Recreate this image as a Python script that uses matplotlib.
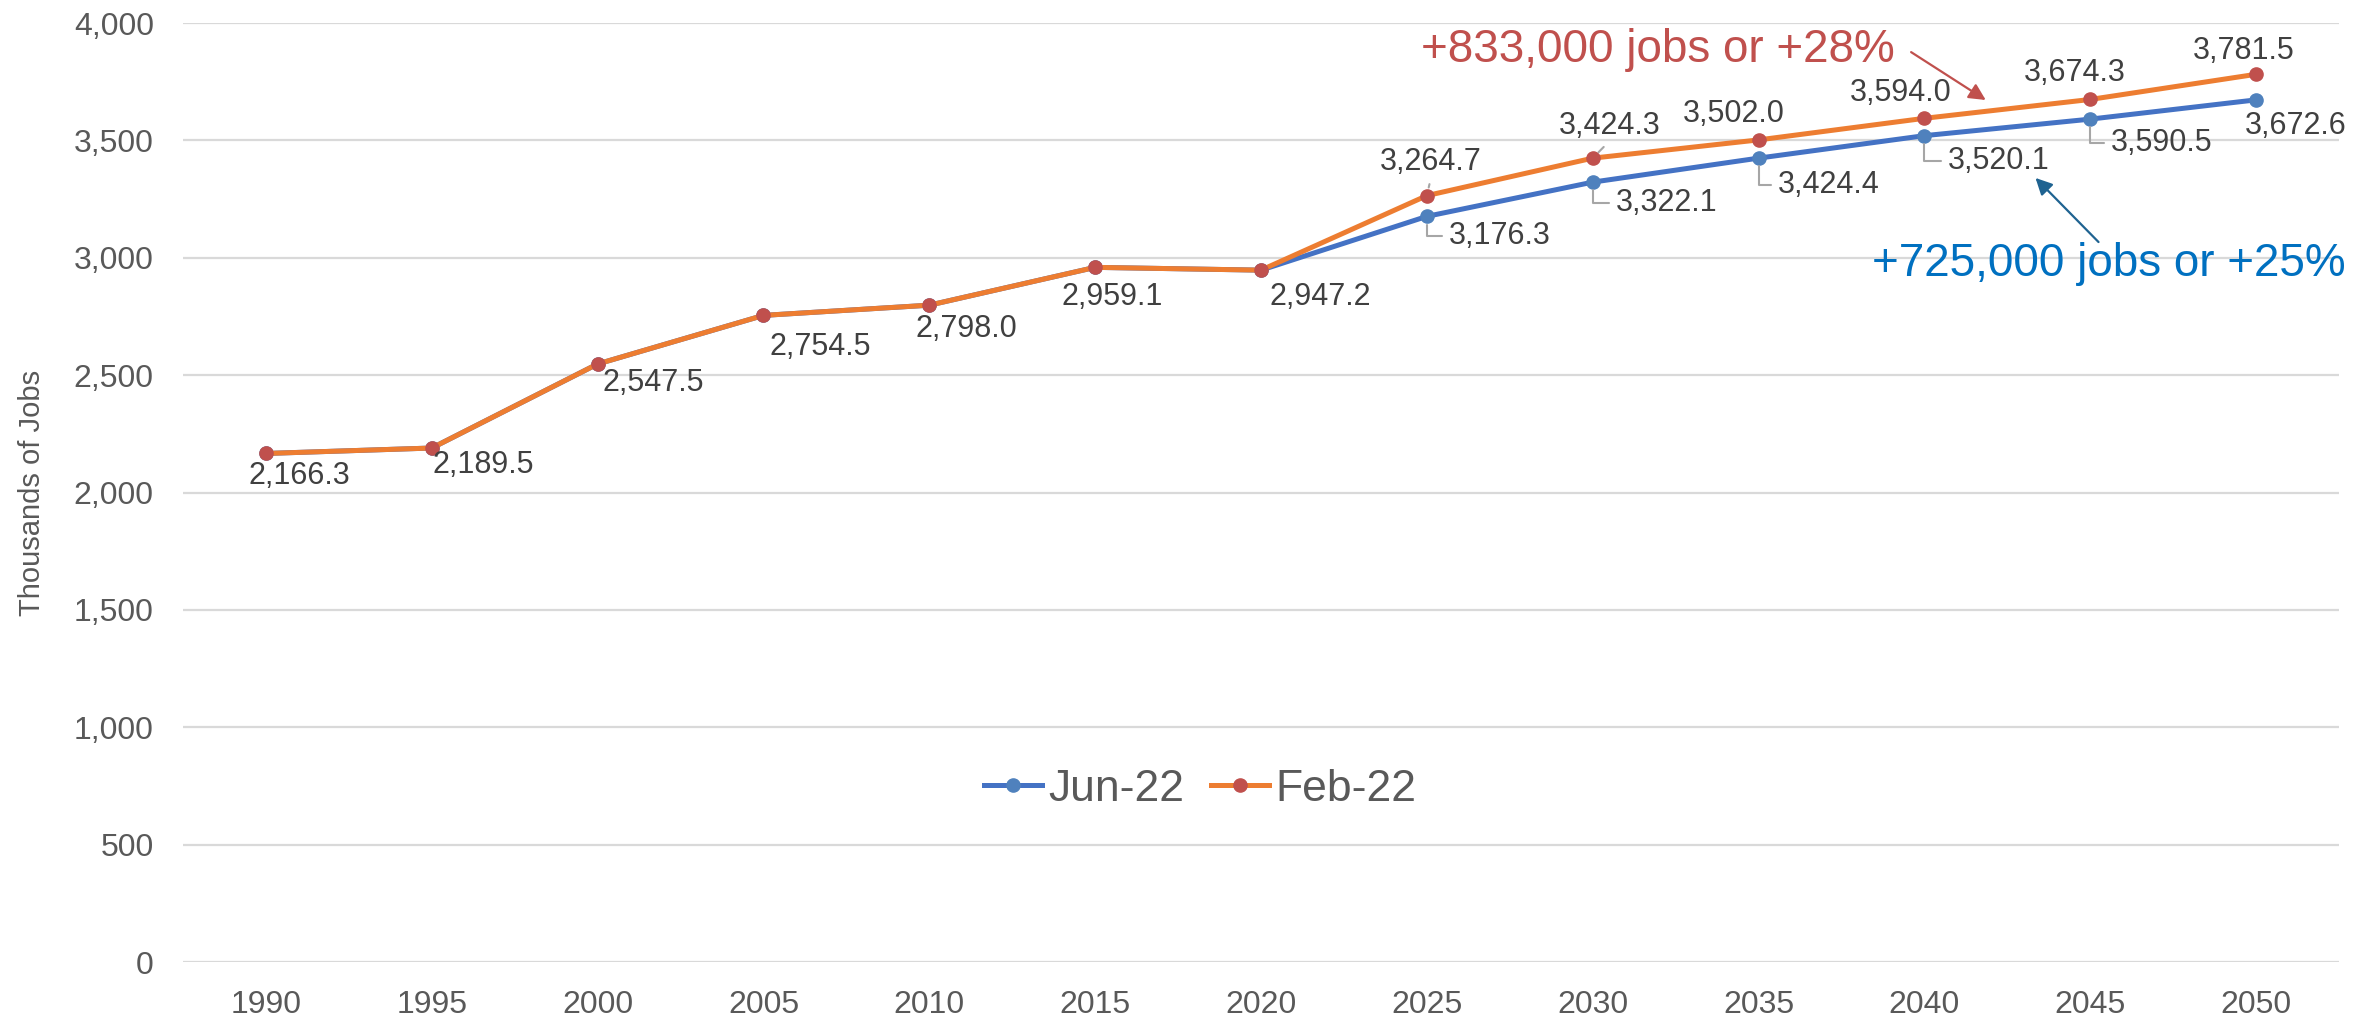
import numpy as np
import matplotlib.pyplot as plt

plt.rcParams['font.family'] = ['Liberation Sans', 'DejaVu Sans']

# data
years = ['1990', '1995', '2000', '2005', '2010', '2015', '2020',
         '2025', '2030', '2035', '2040', '2045', '2050']
jun22 = [2166.3, 2189.5, 2547.5, 2754.5, 2798.0, 2959.1, 2947.2,
         3176.3, 3322.1, 3424.4, 3520.1, 3590.5, 3672.6]
feb22 = [2166.3, 2189.5, 2547.5, 2754.5, 2798.0, 2959.1, 2947.2,
         3264.7, 3424.3, 3502.0, 3594.0, 3674.3, 3781.5]
yticks = [0, 500, 1000, 1500, 2000, 2500, 3000, 3500, 4000]

# label offsets (points)
hist_off = [(24, -16), (37, -12), (40, -14), (41, -23), (27, -17), (12, -21), (43, -19)]
feb_off = [(3, 24), (12, 23), (-18, 19), (-17, 18), (-11, 19), (-9, 17)]
jun_off = [(16, -14), (17, -15), (14, -19), (17, -18), (15, -17), (-8, -19)]

x = np.arange(len(years))
n_hist = len(hist_off)

fig = plt.figure(figsize=(23.71, 10.18), dpi=100)
ax = fig.add_axes([0.0772, 0.055, 0.9093, 0.9224])

ax.plot(x, jun22, color='#4472C4', lw=3.6, marker='o', ms=9.5,
        mfc='#4F81BD', mec='#4F81BD', label='Jun-22', zorder=3)
ax.plot(x, feb22, color='#ED7D31', lw=3.6, marker='o', ms=9.5,
        mfc='#C0504D', mec='#C0504D', label='Feb-22', zorder=4)

ax.set_ylim(0, 4000)
ax.set_xlim(-0.5, len(years) - 0.5)
ax.set_yticks(yticks)
ax.set_yticklabels([f'{v:,}' for v in yticks])
ax.set_xticks(x)
ax.set_xticklabels(years)
ax.tick_params(axis='both', length=0, labelsize=23, colors='#595959')
ax.tick_params(axis='y', pad=21)
ax.tick_params(axis='x', pad=20)
ax.grid(axis='y', color='#D9D9D9', lw=1.6)
ax.set_axisbelow(True)
for s in ax.spines.values():
    s.set_visible(False)
ax.set_ylabel('Thousands of Jobs', fontsize=21, color='#595959', labelpad=20)

lab = dict(fontsize=22, color='#404040', ha='center', va='center',
           textcoords='offset points', zorder=5)
lead = dict(arrowstyle='-', color='#A6A6A6', lw=1.5)

# shared history labels
for i, off in enumerate(hist_off):
    ax.annotate(f'{feb22[i]:,.1f}', (x[i], feb22[i]), xytext=off, **lab)

# Feb-22 projection labels (above)
for k, off in enumerate(feb_off):
    i = n_hist + k
    if k < 2:
        ax.annotate(f'{feb22[i]:,.1f}', (x[i], feb22[i]), xytext=off,
                    arrowprops=dict(lead, relpos=(0.5, 0), shrinkA=3, shrinkB=6), **lab)
    else:
        ax.annotate(f'{feb22[i]:,.1f}', (x[i], feb22[i]), xytext=off, **lab)

# Jun-22 projection labels (below, elbow leaders)
for k, off in enumerate(jun_off):
    i = n_hist + k
    if k < len(jun_off) - 1:
        ax.annotate(f'{jun22[i]:,.1f}', (x[i], jun22[i]), xytext=off,
                    arrowprops=dict(lead, relpos=(0, 0.5), shrinkA=3, shrinkB=6,
                                    connectionstyle='angle,angleA=0,angleB=90,rad=0'),
                    **dict(lab, ha='left'))
    else:
        ax.annotate(f'{jun22[i]:,.1f}', (x[i], jun22[i]), xytext=off,
                    **dict(lab, ha='left'))

# growth callouts
ax.annotate('', xy=(10.37, 3672), xytext=(9.92, 3876),
            arrowprops=dict(arrowstyle='-|>', color='#C0504D', lw=1.6, mutation_scale=25,
                            shrinkA=0, shrinkB=0))
ax.text(8.39, 3885, '+833,000 jobs or +28%', fontsize=33, color='#C0504D',
        ha='center', va='center')
ax.annotate('', xy=(10.67, 3340), xytext=(11.05, 3067),
            arrowprops=dict(arrowstyle='-|>', color='#1F6391', lw=1.6, mutation_scale=25,
                            shrinkA=0, shrinkB=0))
ax.text(11.11, 2973, '+725,000 jobs or +25%', fontsize=33, color='#0070C0',
        ha='center', va='center')

leg = ax.legend(loc='center', bbox_to_anchor=(0.4717, 0.184), ncol=2, frameon=False,
                fontsize=32, handlelength=1.3, handletextpad=0.15, columnspacing=0.6)
for t in leg.get_texts():
    t.set_color('#595959')

fig.savefig('out.png', dpi=100)
